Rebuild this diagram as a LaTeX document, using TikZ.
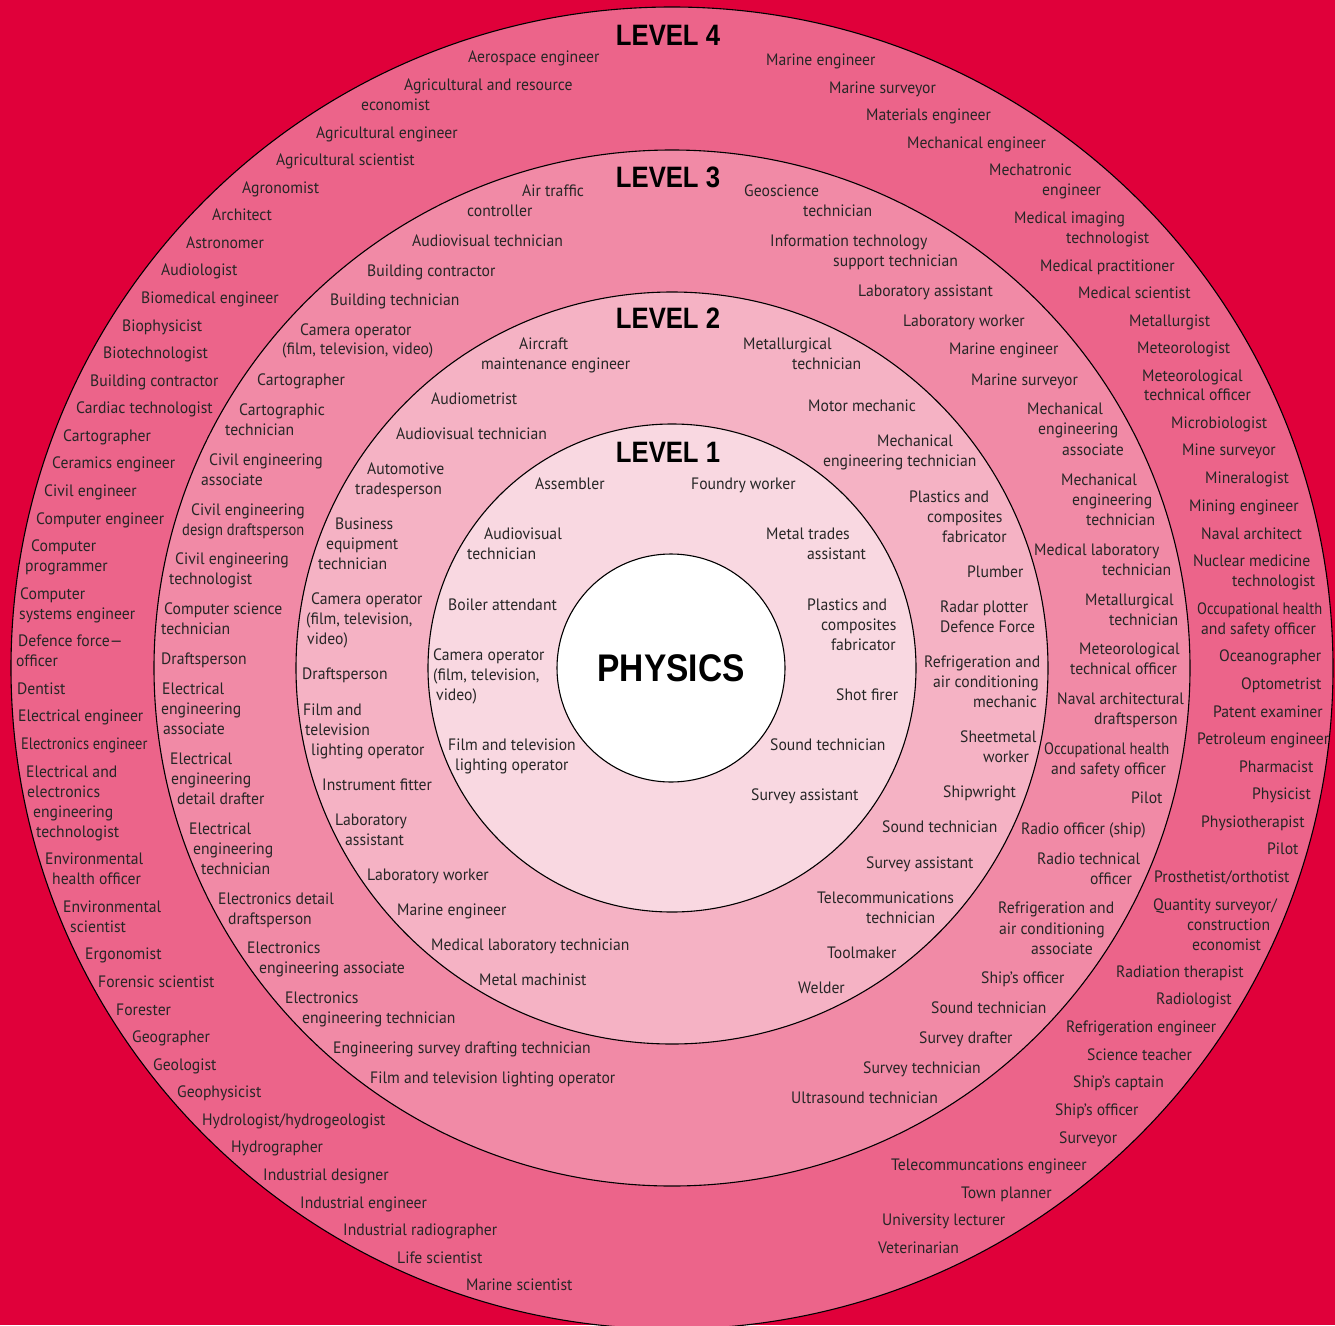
\documentclass[tikz,border=0pt]{standalone}
\usepackage{fontspec}
\setmainfont{PT Sans}[FakeStretch=0.95]
\newfontfamily\headfont{Liberation Sans}[FakeStretch=0.87]
\newfontfamily\narrowfont{PT Sans}[FakeStretch=0.88]
\usepackage{tikz}
\pgfdeclarelayer{bg}
\pgfsetlayers{bg,main}
\definecolor{bgred}{HTML}{E0003A}
\definecolor{ring4}{HTML}{EC648A}
\definecolor{ring3}{HTML}{F18AA6}
\definecolor{ring2}{HTML}{F5B2C4}
\definecolor{ring1}{HTML}{F9D8E1}
\definecolor{ink}{HTML}{262626}
\tikzset{
        ring/.style={draw=black, line width=1.1pt},
        job/.style={anchor=base west, inner sep=0pt, text=ink, font=\fontsize{16.5}{18}\selectfont},
        jobn/.style={job, font=\narrowfont\fontsize{16.5}{18}\selectfont},
        level/.style={anchor=base, inner sep=0pt, text=black, font=\headfont\bfseries\fontsize{29.5}{30}\selectfont},
}

\begin{document}
\begin{tikzpicture}[x=1pt, y=-1pt]
        \useasboundingbox (0,0) rectangle (1335,1325);
        \begin{pgfonlayer}{bg}
                \fill[bgred] (0,0) rectangle (1335,1325);
                \filldraw[ring, fill=ring4] (672,668) circle (661pt);
                \filldraw[ring, fill=ring3] (672,668) circle (518pt);
                \filldraw[ring, fill=ring2] (672,668) circle (376pt);
                \filldraw[ring, fill=ring1] (672,668) circle (244pt);
        \end{pgfonlayer}
        \node (phys) [circle, draw, fill=white, line width=1.1pt, minimum size=228pt, inner sep=0pt, font=\headfont\bfseries\fontsize{38.5}{40}\selectfont] at (671,668) {PHYSICS};
        \node (lev4) [level] at (668,45) {LEVEL 4};
        \node (lev3) [level] at (668,187) {LEVEL 3};
        \node (lev2) [level] at (668,328) {LEVEL 2};
        \node (lev1) [level] at (668,462) {LEVEL 1};
        % level 4
        \node (d1) [job] at (468,62) {Aerospace engineer};
        \node (d2) [job] at (404,90) {Agricultural and resource};
        \node (d3) [job] at (361,110) {economist};
        \node (d4) [job] at (316,138) {Agricultural engineer};
        \node (d5) [job] at (276,165) {Agricultural scientist};
        \node (d6) [job] at (242,193) {Agronomist};
        \node (d7) [job] at (212,220) {Architect};
        \node (d8) [job] at (186,248) {Astronomer};
        \node (d9) [job] at (161,275) {Audiologist};
        \node (d10) [job] at (141,303) {Biomedical engineer};
        \node (d11) [job] at (122,331) {Biophysicist};
        \node (d12) [job] at (103,358) {Biotechnologist};
        \node (d13) [job] at (90,386) {Building contractor};
        \node (d14) [job] at (76,413) {Cardiac technologist};
        \node (d15) [job] at (63,441) {Cartographer};
        \node (d16) [job] at (52,468) {Ceramics engineer};
        \node (d17) [job] at (44,496) {Civil engineer};
        \node (d18) [job] at (36,524) {Computer engineer};
        \node (d19) [job] at (31,551) {Computer};
        \node (d20) [job] at (25,571) {programmer};
        \node (d21) [job] at (20,599) {Computer};
        \node (d22) [job] at (19,619) {systems engineer};
        \node (d23) [job] at (18,646) {Defence force---};
        \node (d24) [job] at (16,666) {officer};
        \node (d25) [job] at (17,694) {Dentist};
        \node (d26) [job] at (18,721) {Electrical engineer};
        \node (d27) [jobn] at (21,749) {Electronics engineer};
        \node (d28) [job] at (26,777) {Electrical and};
        \node (d29) [job] at (27,797) {electronics};
        \node (d30) [job] at (33,817) {engineering};
        \node (d31) [job] at (36,837) {technologist};
        \node (d32) [job] at (45,864) {Environmental};
        \node (d33) [job] at (52,884) {health officer};
        \node (d34) [job] at (63,912) {Environmental};
        \node (d35) [job] at (70,932) {scientist};
        \node (d36) [job] at (85,959) {Ergonomist};
        \node (d37) [job] at (98,987) {Forensic scientist};
        \node (d38) [job] at (116,1015) {Forester};
        \node (d39) [job] at (132,1042) {Geographer};
        \node (d40) [job] at (153,1070) {Geologist};
        \node (d41) [job] at (177,1097) {Geophysicist};
        \node (d42) [job] at (202,1125) {Hydrologist/hydrogeologist};
        \node (d43) [job] at (231,1152) {Hydrographer};
        \node (d44) [job] at (263,1180) {Industrial designer};
        \node (d45) [job] at (300,1208) {Industrial engineer};
        \node (d46) [job] at (343,1235) {Industrial radiographer};
        \node (d47) [job] at (397,1263) {Life scientist};
        \node (d48) [job] at (466,1290) {Marine scientist};
        \node (d49) [job] at (766,65) {Marine engineer};
        \node (d50) [job] at (829,93) {Marine surveyor};
        \node (d51) [job] at (866,120) {Materials engineer};
        \node (d52) [job] at (907,148) {Mechanical engineer};
        \node (d53) [job] at (989,175) {Mechatronic};
        \node (d54) [job] at (1042,195) {engineer};
        \node (d55) [job] at (1014,223) {Medical imaging};
        \node (d56) [job] at (1066,243) {technologist};
        \node (d57) [job] at (1040,271) {Medical practitioner};
        \node (d58) [job] at (1078,298) {Medical scientist};
        \node (d59) [job] at (1129,326) {Metallurgist};
        \node (d60) [job] at (1137,353) {Meteorologist};
        \node (d61) [job] at (1142,381) {Meteorological};
        \node (d62) [job] at (1144,400) {technical officer};
        \node (d63) [job] at (1171,428) {Microbiologist};
        \node (d64) [job] at (1182,455) {Mine surveyor};
        \node (d65) [job] at (1205,483) {Mineralogist};
        \node (d66) [job] at (1189,511) {Mining engineer};
        \node (d67) [job] at (1201,539) {Naval architect};
        \node (d68) [job] at (1193,566) {Nuclear medicine};
        \node (d69) [job] at (1232,586) {technologist};
        \node (d70) [jobn] at (1197,614) {Occupational health};
        \node (d71) [job] at (1201,634) {and safety officer};
        \node (d72) [job] at (1219,661) {Oceanographer};
        \node (d73) [job] at (1241,689) {Optometrist};
        \node (d74) [job] at (1213,717) {Patent examiner};
        \node (d75) [job] at (1197,744) {Petroleum engineer};
        \node (d76) [job] at (1239,772) {Pharmacist};
        \node (d77) [job] at (1252,799) {Physicist};
        \node (d78) [job] at (1201,827) {Physiotherapist};
        \node (d79) [job] at (1267,854) {Pilot};
        \node (d80) [job] at (1154,882) {Prosthetist/orthotist};
        \node (d81) [job] at (1153,910) {Quantity surveyor/};
        \node (d82) [job] at (1187,930) {construction};
        \node (d83) [job] at (1192,950) {economist};
        \node (d84) [job] at (1116,977) {Radiation therapist};
        \node (d85) [job] at (1156,1004) {Radiologist};
        \node (d86) [job] at (1066,1032) {Refrigeration engineer};
        \node (d87) [job] at (1087,1060) {Science teacher};
        \node (d88) [job] at (1073,1087) {Ship’s captain};
        \node (d89) [job] at (1055,1115) {Ship’s officer};
        \node (d90) [job] at (1059,1143) {Surveyor};
        \node (d91) [job] at (891,1170) {Telecommuncations engineer};
        \node (d92) [job] at (961,1198) {Town planner};
        \node (d93) [job] at (882,1225) {University lecturer};
        \node (d94) [job] at (878,1253) {Veterinarian};
        % level 3
        \node (c1) [job] at (522,196) {Air traffic};
        \node (c2) [job] at (467,216) {controller};
        \node (c3) [job] at (412,246) {Audiovisual technician};
        \node (c4) [job] at (367,276) {Building contractor};
        \node (c5) [job] at (330,305) {Building technician};
        \node (c6) [job] at (300,335) {Camera operator};
        \node (c7) [job] at (282,354) {(film, television, video)};
        \node (c8) [job] at (257,385) {Cartographer};
        \node (c9) [job] at (239,415) {Cartographic};
        \node (c10) [job] at (225,435) {technician};
        \node (c11) [job] at (209,465) {Civil engineering};
        \node (c12) [job] at (201,485) {associate};
        \node (c13) [job] at (191,515) {Civil engineering};
        \node (c14) [jobn] at (182,535) {design draftsperson};
        \node (c15) [job] at (175,564) {Civil engineering};
        \node (c16) [job] at (169,584) {technologist};
        \node (c17) [job] at (164,614) {Computer science};
        \node (c18) [job] at (161,634) {technician};
        \node (c19) [job] at (161,664) {Draftsperson};
        \node (c20) [job] at (162,694) {Electrical};
        \node (c21) [job] at (161,714) {engineering};
        \node (c22) [job] at (163,734) {associate};
        \node (c23) [job] at (170,764) {Electrical};
        \node (c24) [job] at (171,784) {engineering};
        \node (c25) [job] at (177,804) {detail drafter};
        \node (c26) [job] at (189,834) {Electrical};
        \node (c27) [job] at (193,854) {engineering};
        \node (c28) [job] at (201,874) {technician};
        \node (c29) [job] at (218,904) {Electronics detail};
        \node (c30) [job] at (228,924) {draftsperson};
        \node (c31) [job] at (247,953) {Electronics};
        \node (c32) [job] at (259,973) {engineering associate};
        \node (c33) [job] at (285,1003) {Electronics};
        \node (c34) [job] at (302,1023) {engineering technician};
        \node (c35) [job] at (333,1053) {Engineering survey drafting technician};
        \node (c36) [job] at (370,1083) {Film and television lighting operator};
        \node (c37) [job] at (744,196) {Geoscience};
        \node (c38) [job] at (803,216) {technician};
        \node (c39) [job] at (770,246) {Information technology};
        \node (c40) [job] at (833,266) {support technician};
        \node (c41) [job] at (858,296) {Laboratory assistant};
        \node (c42) [job] at (903,326) {Laboratory worker};
        \node (c43) [job] at (949,354) {Marine engineer};
        \node (c44) [job] at (971,385) {Marine surveyor};
        \node (c45) [job] at (1027,414) {Mechanical};
        \node (c46) [job] at (1038,434) {engineering};
        \node (c47) [job] at (1062,455) {associate};
        \node (c48) [job] at (1061,485) {Mechanical};
        \node (c49) [job] at (1072,505) {engineering};
        \node (c50) [job] at (1086,525) {technician};
        \node (c51) [job] at (1034,555) {Medical laboratory};
        \node (c52) [job] at (1102,575) {technician};
        \node (c53) [job] at (1085,605) {Metallurgical};
        \node (c54) [job] at (1109,625) {technician};
        \node (c55) [job] at (1079,654) {Meteorological};
        \node (c56) [job] at (1070,674) {technical officer};
        \node (c57) [job] at (1057,704) {Naval architectural};
        \node (c58) [job] at (1094,724) {draftsperson};
        \node (c59) [jobn] at (1044,754) {Occupational health};
        \node (c60) [job] at (1051,774) {and safety officer};
        \node (c61) [job] at (1131,803) {Pilot};
        \node (c62) [job] at (1021,834) {Radio officer (ship)};
        \node (c63) [job] at (1037,864) {Radio technical};
        \node (c64) [job] at (1090,884) {officer};
        \node (c65) [job] at (998,913) {Refrigeration and};
        \node (c66) [job] at (999,934) {air conditioning};
        \node (c67) [job] at (1031,954) {associate};
        \node (c68) [job] at (981,983) {Ship’s officer};
        \node (c69) [job] at (931,1013) {Sound technician};
        \node (c70) [job] at (919,1043) {Survey drafter};
        \node (c71) [job] at (863,1073) {Survey technician};
        \node (c72) [job] at (791,1103) {Ultrasound technician};
        % level 2
        \node (b1) [job] at (519,349) {Aircraft};
        \node (b2) [job] at (481,369) {maintenance engineer};
        \node (b3) [job] at (431,404) {Audiometrist};
        \node (b4) [job] at (396,439) {Audiovisual technician};
        \node (b5) [job] at (367,474) {Automotive};
        \node (b6) [job] at (355,494) {tradesperson};
        \node (b7) [job] at (335,529) {Business};
        \node (b8) [job] at (326,549) {equipment};
        \node (b9) [job] at (318,569) {technician};
        \node (b10) [job] at (311,604) {Camera operator};
        \node (b11) [job] at (306,624) {(film, television,};
        \node (b12) [job] at (307,644) {video)};
        \node (b13) [job] at (302,679) {Draftsperson};
        \node (b14) [job] at (303,715) {Film and};
        \node (b15) [job] at (305,735) {television};
        \node (b16) [job] at (311,755) {lighting operator};
        \node (b17) [job] at (322,790) {Instrument fitter};
        \node (b18) [job] at (335,825) {Laboratory};
        \node (b19) [job] at (345,845) {assistant};
        \node (b20) [job] at (367,880) {Laboratory worker};
        \node (b21) [job] at (397,915) {Marine engineer};
        \node (b22) [job] at (431,950) {Medical laboratory technician};
        \node (b23) [job] at (479,985) {Metal machinist};
        \node (b24) [job] at (743,349) {Metallurgical};
        \node (b25) [job] at (792,369) {technician};
        \node (b26) [job] at (808,411) {Motor mechanic};
        \node (b27) [job] at (877,446) {Mechanical};
        \node (b28) [job] at (823,466) {engineering technician};
        \node (b29) [job] at (909,502) {Plastics and};
        \node (b30) [job] at (927,522) {composites};
        \node (b31) [job] at (942,542) {fabricator};
        \node (b32) [job] at (967,577) {Plumber};
        \node (b33) [job] at (940,612) {Radar plotter};
        \node (b34) [job] at (940,632) {Defence Force};
        \node (b35) [job] at (924,667) {Refrigeration and};
        \node (b36) [job] at (933,687) {air conditioning};
        \node (b37) [job] at (973,707) {mechanic};
        \node (b38) [job] at (960,742) {Sheetmetal};
        \node (b39) [job] at (983,762) {worker};
        \node (b40) [job] at (943,797) {Shipwright};
        \node (b41) [job] at (882,832) {Sound technician};
        \node (b42) [job] at (866,868) {Survey assistant};
        \node (b43) [job] at (817,903) {Telecommunications};
        \node (b44) [job] at (866,923) {technician};
        \node (b45) [job] at (827,958) {Toolmaker};
        \node (b46) [job] at (798,993) {Welder};
        % level 1
        \node (a1) [job] at (535,489) {Assembler};
        \node (a2) [job] at (691,489) {Foundry worker};
        \node (a3) [job] at (484,539) {Audiovisual};
        \node (a4) [job] at (467,559) {technician};
        \node (a5) [job] at (766,539) {Metal trades};
        \node (a6) [job] at (807,559) {assistant};
        \node (a7) [job] at (448,610) {Boiler attendant};
        \node (a8) [job] at (807,610) {Plastics and};
        \node (a9) [job] at (821,630) {composites};
        \node (a10) [job] at (831,650) {fabricator};
        \node (a11) [job] at (433,660) {Camera operator};
        \node (a12) [job] at (433,680) {(film, television,};
        \node (a13) [job] at (436,700) {video)};
        \node (a14) [job] at (836,700) {Shot firer};
        \node (a15) [job] at (448,750) {Film and television};
        \node (a16) [job] at (455,770) {lighting operator};
        \node (a17) [job] at (770,750) {Sound technician};
        \node (a18) [job] at (751,800) {Survey assistant};
\end{tikzpicture}
\end{document}
